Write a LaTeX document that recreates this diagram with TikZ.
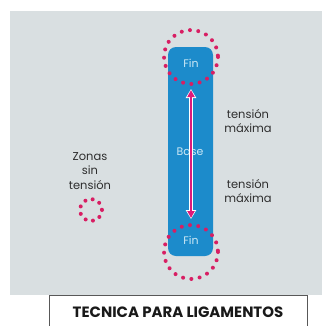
\documentclass[tikz,border=0pt]{standalone}
\usepackage{fontspec}
\setmainfont{Poppins}
\usetikzlibrary{arrows.meta}

\definecolor{panel}{HTML}{D9DFE1}
\definecolor{barblue}{HTML}{1C8BCB}
\definecolor{finblue}{HTML}{CDE9F6}
\definecolor{dotpink}{HTML}{D81E63}
\definecolor{textgray}{HTML}{2E2E2E}

\tikzset{
  zone/.style={draw=dotpink,line width=4bp,line cap=round,dash pattern=on 0pt off 8.4bp},
  inbar/.style={text=finblue,font=\fontsize{11}{12}\selectfont},
  lbl/.style={text=textgray,align=center,font=\fontsize{11.5}{15}\selectfont}
}

\begin{document}
\begin{tikzpicture}[x=1bp,y=-1bp]
\useasboundingbox (0,0) rectangle (322,326);

\fill[panel] (10,11) rectangle (322,295);
\fill[barblue,rounded corners=8bp] (168,47) rectangle (213,256);

\node[inbar] (fintop) at (191,63) {Fin};
\node[inbar] (base) at (190,152) {Base};
\node[inbar] (finbot) at (191,240) {Fin};

\coordinate (up) at (191,89);
\coordinate (down) at (191,219);
\draw[{Triangle[width=10bp,length=9bp]}-{Triangle[width=10bp,length=9bp]},white,line width=4bp] (up) -- (down);
\draw[{Triangle[width=7bp,length=7bp]}-{Triangle[width=7bp,length=7bp]},dotpink!85!magenta,line width=2.2bp,shorten <=1bp,shorten >=1bp] (up) -- (down);

\draw[zone] (191,57) circle[radius=27];
\draw[zone] (191,252) circle[radius=27];

\node[lbl] (tmax1) at (248,121) {tensión\\máxima};
\node[lbl] (tmax2) at (248,191) {tensión\\máxima};

\node[lbl] (zonas) at (90,171) {Zonas\\sin\\tensión};
\draw[zone,dash pattern=on 0pt off 7.6bp] (91,210) circle[radius=11];

\node[draw=textgray!80,line width=1.4bp,fill=white,minimum width=258bp,minimum height=40bp,anchor=north west] (title) at (49,295) {};
\node[font=\bfseries\fontsize{15}{16}\selectfont,text=black!90] (tlabel) at (178,312) {TECNICA PARA LIGAMENTOS};

\end{tikzpicture}
\end{document}
